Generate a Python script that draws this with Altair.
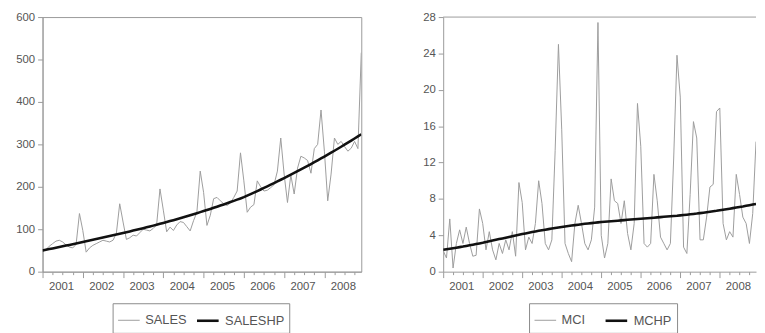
import altair as alt
import pandas as pd

# ---------------- data (monthly, 2001M01 - 2008M12) ----------------
months = [f"{y}-{m:02d}" for y in range(2001, 2009) for m in range(1, 13)]

sales = [
    47, 52, 60, 66, 72, 74, 70, 63, 58, 56, 64, 137,
    97, 46, 56, 62, 66, 70, 74, 72, 70, 74, 90, 160,
    117, 76, 80, 86, 84, 92, 100, 98, 96, 102, 110, 195,
    145, 94, 105, 97, 110, 118, 116, 106, 96, 120, 140, 237,
    187, 109, 133, 172, 175, 167, 160, 156, 162, 175, 190, 280,
    214, 140, 152, 158, 214, 200, 190, 192, 198, 205, 237, 315,
    230, 163, 228, 183, 244, 272, 268, 262, 232, 290, 300, 381,
    284, 167, 230, 315, 300, 307, 295, 284, 291, 307, 290, 516,
]

sales_hp = [
    50.0, 51.6, 53.2, 54.8, 56.4, 58.0, 59.7, 61.4, 63.1, 64.8, 66.5, 68.2,
    70.0, 71.7, 73.4, 75.1, 76.8, 78.5, 80.3, 82.1, 83.9, 85.7, 87.5, 89.3,
    91.1, 93.0, 94.9, 96.8, 98.7, 100.6, 102.5, 104.5, 106.5, 108.5, 110.6, 112.7,
    114.8, 117.0, 119.2, 121.4, 123.7, 126.0, 128.3, 130.6, 133.0, 135.4, 137.8, 140.3,
    142.8, 145.3, 147.9, 150.5, 153.1, 155.8, 158.5, 161.2, 164.0, 166.8, 169.7, 172.6,
    175.6, 179.1, 182.7, 186.3, 190.0, 193.7, 197.4, 201.2, 205.0, 208.8, 212.7, 216.6,
    220.5, 224.5, 228.5, 232.6, 236.7, 240.9, 245.1, 249.4, 253.7, 258.0, 262.4, 266.8,
    271.3, 275.8, 280.4, 285.0, 289.7, 294.4, 299.2, 304.0, 308.9, 313.8, 318.8, 323.8,
]

mci = [
    2.3, 1.5, 5.8, 0.4, 3.1, 4.6, 3.1, 4.9, 3.1, 1.7, 1.8, 6.9,
    5.3, 2.4, 4.4, 2.4, 1.3, 3.1, 2.0, 3.5, 2.4, 4.4, 1.7, 9.8,
    7.6, 2.4, 3.8, 3.1, 5.3, 10.0, 7.5, 3.1, 2.4, 3.5, 13.3, 25.0,
    15.6, 3.1, 2.0, 1.1, 5.3, 7.3, 5.3, 3.1, 2.4, 3.5, 7.1, 27.4,
    4.0, 1.5, 3.1, 10.2, 7.8, 7.5, 5.3, 7.8, 4.2, 2.4, 5.3, 18.5,
    13.8, 3.1, 2.7, 3.1, 10.7, 7.8, 3.8, 3.1, 2.4, 3.1, 12.5, 23.8,
    19.2, 2.7, 2.0, 8.5, 16.5, 14.7, 3.5, 3.5, 6.0, 9.3, 9.6, 17.6,
    18.0, 5.3, 3.5, 4.4, 3.8, 10.7, 8.5, 6.0, 5.3, 3.1, 6.4, 14.3,
]

mchp = [
    2.40, 2.46, 2.52, 2.58, 2.64, 2.70, 2.76, 2.83, 2.90, 2.97, 3.04, 3.11,
    3.18, 3.26, 3.34, 3.42, 3.50, 3.58, 3.66, 3.74, 3.82, 3.90, 3.98, 4.06,
    4.14, 4.21, 4.28, 4.35, 4.42, 4.49, 4.56, 4.62, 4.68, 4.74, 4.80, 4.86,
    4.92, 4.97, 5.02, 5.07, 5.12, 5.17, 5.22, 5.26, 5.30, 5.34, 5.38, 5.42,
    5.46, 5.49, 5.52, 5.55, 5.58, 5.61, 5.64, 5.67, 5.70, 5.73, 5.76, 5.79,
    5.82, 5.85, 5.88, 5.91, 5.94, 5.97, 6.00, 6.03, 6.06, 6.09, 6.12, 6.15,
    6.19, 6.23, 6.27, 6.31, 6.35, 6.39, 6.44, 6.49, 6.54, 6.59, 6.64, 6.69,
    6.75, 6.81, 6.87, 6.93, 6.99, 7.05, 7.11, 7.17, 7.24, 7.31, 7.38, 7.45,
]

years = list(range(2001, 2009))
sales_ticks = [0, 100, 200, 300, 400, 500, 600]
mci_ticks = [0, 4, 8, 12, 16, 20, 24, 28]

# ---------------- helpers ----------------
t = [int(s[:4]) + (int(s[5:]) - 1) / 12 for s in months]
x_max = years[-1] + 11 / 12

LABEL_OFF = 5.5 / 12
x_values = []
for y in years:
    x_values += [y, y + 0.25, y + 0.5, y + 0.75, y + LABEL_OFF]
x_values.append(years[-1] + 1)
x_values = sorted(v for v in x_values if v <= x_max + 1e-9)

FONT = "Liberation Sans"
FRAME = "#9a9a9a"
TXT = "#555555"

is_label = f"abs(datum.value - floor(datum.value) - {LABEL_OFF}) < 0.01"

x_axis = alt.Axis(
    values=x_values,
    labelExpr=f"{is_label} ? '' + floor(datum.value) : ''",
    tickSize={"condition": {"test": "abs(datum.value - round(datum.value)) < 0.001", "value": 6}, "value": 3},
    tickOpacity={"condition": {"test": is_label, "value": 0}, "value": 1},
    labelOverlap=False,
    labelFlush=False,
    labelPadding=6,
    grid=False,
    domainColor=FRAME,
    tickColor=FRAME,
    labelColor=TXT,
    labelFont=FONT,
    labelFontSize=11.5,
    title=None,
)


def y_axis(vals):
    return alt.Axis(
        values=vals,
        grid=False,
        tickSize=5,
        labelPadding=3,
        domainColor=FRAME,
        tickColor=FRAME,
        labelColor=TXT,
        labelFont=FONT,
        labelFontSize=11.5,
        title=None,
    )


def legend(lx, ly, colpad):
    return alt.Legend(
        orient="none",
        legendX=lx,
        legendY=ly,
        direction="horizontal",
        title=None,
        symbolType="stroke",
        symbolSize=480,
        labelFont=FONT,
        labelFontSize=13,
        labelColor=TXT,
        labelOffset=5,
        columnPadding=colpad,
        padding=5,
        strokeColor="#8a8a8a",
        fillColor="white",
    )


def panel(values_a, values_b, names, ymax, yticks, width, lx, ly, colpad):
    df = pd.DataFrame({
        "t": t + t,
        "value": values_a + values_b,
        "series": [names[0]] * len(t) + [names[1]] * len(t),
    })
    return alt.Chart(df).mark_line(clip=True).encode(
        x=alt.X("t:Q", scale=alt.Scale(domain=[years[0], x_max], nice=False, zero=False), axis=x_axis),
        y=alt.Y("value:Q", scale=alt.Scale(domain=[0, ymax], nice=False), axis=y_axis(yticks)),
        color=alt.Color("series:N", scale=alt.Scale(domain=names, range=["#9c9c9c", "#111111"]),
                        legend=legend(lx, ly, colpad)),
        strokeWidth=alt.StrokeWidth("series:N", scale=alt.Scale(domain=names, range=[1.0, 2.6]),
                                    legend=legend(lx, ly, colpad)),
    ).properties(width=width, height=258)


left = panel(sales, sales_hp, ["SALES", "SALESHP"], 600, sales_ticks, 323, 71, 290, 5).properties(
    view=alt.ViewBackground(stroke=FRAME, strokeWidth=1)
)

RW = 317
top_rule = alt.Chart(alt.InlineData(values=[{"k": 1}])).mark_rule(color=FRAME, strokeWidth=1).encode(
    x=alt.value(0), x2=alt.value(RW), y=alt.value(0)
)
right_lines = panel(mci, mchp, ["MCI", "MCHP"], 28, mci_ticks, RW, 87, 290, 15)
right = alt.layer(top_rule, right_lines).properties(
    width=RW, height=258, view=alt.ViewBackground(strokeOpacity=0)
)

chart = alt.hconcat(left, right, spacing=61).resolve_scale(
    color="independent", strokeWidth="independent", x="independent", y="independent"
).resolve_legend(
    color="independent", strokeWidth="independent"
).properties(
    padding={"left": 7, "top": 0, "right": 0, "bottom": 0}
).configure_view(stroke=FRAME)

chart.save("out.html", embed_options={"renderer": "svg", "actions": False})
